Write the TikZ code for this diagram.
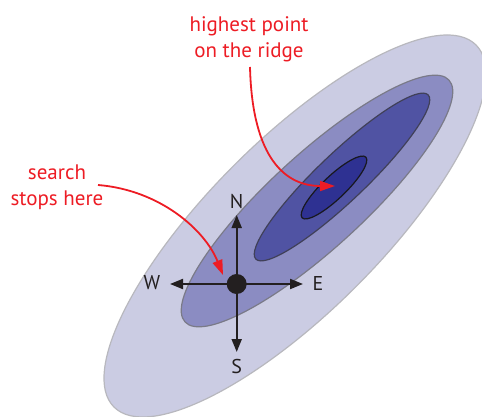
\documentclass[tikz,border=0pt]{standalone}
\usepackage{fontspec}
\setmainfont{PT Sans}
\usetikzlibrary{arrows.meta}
\definecolor{ridgered}{HTML}{ED1C24}
\definecolor{fillA}{HTML}{CBCCE3}
\definecolor{fillB}{HTML}{8B8CC2}
\definecolor{fillC}{HTML}{5053A3}
\definecolor{fillD}{HTML}{2E3192}
\definecolor{lineA}{HTML}{B8B8BE}
\definecolor{lineB}{HTML}{7A7A88}
\definecolor{lineC}{HTML}{404058}
\definecolor{lineD}{HTML}{18181F}
\definecolor{ink}{HTML}{231F20}
\tikzset{
  contour/.style={line width=1.2pt},
  compassarm/.style={ink, line width=2pt, -{Triangle[length=13pt,width=10pt]}},
  compasslabel/.style={ink, font=\fontsize{20}{24}\selectfont, inner sep=0pt},
  note/.style={ridgered, font=\fontsize{21}{26}\selectfont, align=center, inner sep=0pt},
  pointer/.style={ridgered, line width=1.8pt, -{Triangle[length=15pt,width=10pt]}},
}
\begin{document}
\begin{tikzpicture}[x=1pt,y=1pt]
\useasboundingbox (0,0) rectangle (482,416);
% contour ellipses
\draw[contour, fill=fillA, draw=lineA, rotate around={45:(295,190)}] (295,190) ellipse [x radius=256, y radius=86];
\draw[contour, fill=fillB, draw=lineB, rotate around={42.5:(317,215)}] (317,215) ellipse [x radius=179, y radius=47];
\draw[contour, fill=fillC, draw=lineC, rotate around={43.6:(342,239)}] (342,239) ellipse [x radius=119, y radius=24];
\draw[contour, fill=fillD, draw=lineD, rotate around={43.6:(334,228.5)}] (334,228.5) ellipse [x radius=44, y radius=11.5];
% compass
\coordinate (tipN) at (236.7,201);
\coordinate (tipS) at (236.7,64);
\coordinate (tipE) at (303,132);
\coordinate (tipW) at (170,132);
\draw[compassarm] (236.7,132) coordinate (ctr) -- (tipN);
\draw[compassarm] (ctr) -- (tipS);
\draw[compassarm] (ctr) -- (tipE);
\draw[compassarm] (ctr) -- (tipW);
\node[circle, fill=ink, minimum size=20pt, inner sep=0pt] (dot) at (ctr) {};
\node[compasslabel] (labN) at (236.7,214.5) {N};
\node[compasslabel] (labS) at (236.7,49.5) {S};
\node[compasslabel] (labE) at (318,133) {E};
\node[compasslabel] (labW) at (152,133) {W};
% notes
\node[note, anchor=base] (ridge) at (249,358) {highest point\\on the ridge};
\node[note, anchor=base] (stops) at (57,211) {search\\stops here};
\coordinate (ridgeStart) at (250,349);
\coordinate (ridgeEnd) at (335,230);
\coordinate (stopsStart) at (98,231);
\coordinate (stopsEnd) at (223,141);
\draw[pointer] (ridgeStart) .. controls (252,266) and (280,230) .. (ridgeEnd);
\draw[pointer] (stopsStart) .. controls (160,226) and (205,186) .. (stopsEnd);
\end{tikzpicture}
\end{document}
